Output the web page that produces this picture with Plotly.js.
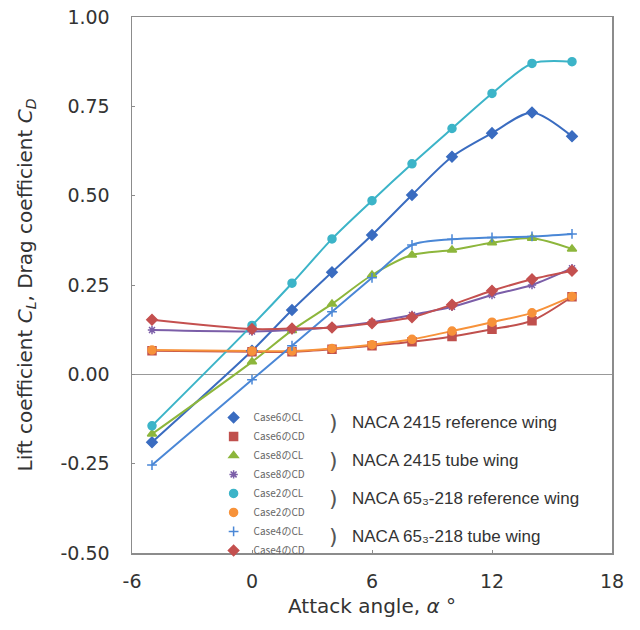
<!DOCTYPE html>
<html>
<head>
<meta charset="utf-8">
<script src="https://cdn.plot.ly/plotly-3.0.1.min.js"></script>
<style>html,body{margin:0;padding:0;background:#fff;}#chart{width:640px;height:630px;}</style>
</head>
<body>
<div id="chart"></div>
<script>
// Attack angle (degrees)
const alpha = [-5, 0, 2, 4, 6, 8, 10, 12, 14, 16];

// NACA 2415 reference wing
const case6CL = [-0.19, 0.066, 0.18, 0.286, 0.39, 0.502, 0.609, 0.675, 0.733, 0.666];
const case6CD = [0.066, 0.063, 0.063, 0.070, 0.080, 0.091, 0.106, 0.126, 0.150, 0.217];
// NACA 2415 tube wing
const case8CL = [-0.167, 0.035, 0.123, 0.197, 0.278, 0.334, 0.348, 0.368, 0.381, 0.351];
const case8CD = [0.124, 0.120, 0.124, 0.132, 0.146, 0.166, 0.189, 0.222, 0.250, 0.297];
// NACA 65(3)-218 reference wing
const case2CL = [-0.144, 0.137, 0.255, 0.379, 0.486, 0.589, 0.688, 0.786, 0.870, 0.875];
const case2CD = [0.068, 0.065, 0.065, 0.072, 0.083, 0.098, 0.121, 0.146, 0.172, 0.218];
// NACA 65(3)-218 tube wing
const case4CL = [-0.254, -0.015, 0.080, 0.175, 0.270, 0.362, 0.378, 0.383, 0.386, 0.393];
const case4CD = [0.153, 0.127, 0.128, 0.131, 0.143, 0.160, 0.195, 0.234, 0.266, 0.290];

const seriesNames = ["Case6のCL", "Case6のCD", "Case8のCL", "Case8のCD", "Case2のCL", "Case2のCD", "Case4のCL", "Case4のCD"];
const seriesValues = [case6CL, case6CD, case8CL, case8CD, case2CL, case2CD, case4CL, case4CD];
const groupLabels = ["NACA 2415 reference wing", "NACA 2415 tube wing", "NACA 65₃-218 reference wing", "NACA 65₃-218 tube wing"];
const xTickVals = [-6, 0, 6, 12, 18];
const xTickText = ["-6", "0", "6", "12", "18"];
const yTickVals = [-0.5, -0.25, 0, 0.25, 0.5, 0.75, 1.0];
const yTickText = ["-0.50", "-0.25", "0.00", "0.25", "0.50", "0.75", "1.00"];

const colors = ["#3a6cc0", "#c0504d", "#8db63c", "#7b5ea8", "#3cb4c8", "#f7923a", "#4a87d6", "#c4504f"];
const symbols = ["diamond", "square", "triangle-up", "asterisk-open", "circle", "circle", "cross-thin-open", "diamond"];
const sizes = [8, 8, 8, 7, 8, 8, 7, 8];

const traces = [];
// lines (no legend)
seriesValues.forEach((v, i) => {
  traces.push({
    x: alpha, y: v, type: "scatter", mode: "lines", showlegend: false, hoverinfo: "skip",
    line: {color: colors[i], width: 2, shape: "spline", smoothing: 0.8}
  });
});
// markers (legend)
seriesValues.forEach((v, i) => {
  traces.push({
    x: alpha, y: v, type: "scatter", mode: "markers", name: seriesNames[i],
    marker: {color: colors[i], symbol: symbols[i], size: sizes[i], line: {color: colors[i], width: 1.5}}
  });
});

// group annotations next to the legend pairs
const pairY = [-0.135, -0.241, -0.348, -0.454];
const annotations = [];
pairY.forEach((y, k) => {
  annotations.push({x: 4.05, y: y, xref: "x", yref: "y", text: ")", showarrow: false,
    font: {family: "DejaVu Sans", size: 22, color: "#555"}, xanchor: "center", yanchor: "middle"});
  annotations.push({x: 4.9, y: y, xref: "x", yref: "y", text: groupLabels[k], showarrow: false,
    font: {family: "Liberation Sans, DejaVu Sans, sans-serif", size: 17, color: "#333"}, xanchor: "left", yanchor: "middle"});
});

const layout = {
  width: 640, height: 630,
  margin: {l: 132, r: 28, t: 17, b: 77},
  paper_bgcolor: "#fff", plot_bgcolor: "#fff",
  font: {family: "DejaVu Sans, sans-serif", color: "#333"},
  showlegend: true,
  legend: {
    x: 0.17, y: 0.28, xanchor: "left", yanchor: "top",
    bgcolor: "rgba(0,0,0,0)", borderwidth: 0,
    font: {family: "Noto Sans CJK JP", size: 10, color: "#666"},
    itemwidth: 30, tracegroupgap: 0
  },
  xaxis: {
    range: [-6, 18], tickvals: xTickVals, ticktext: xTickText,
    showgrid: false, zeroline: false,
    showline: true, mirror: true, linecolor: "#8c8c8c", linewidth: 1.5,
    ticks: "inside", ticklen: 3, tickcolor: "#8c8c8c",
    tickfont: {family: "DejaVu Sans, sans-serif", size: 19, color: "#333"}, ticklabelstandoff: 11,
    title: {text: "Attack angle, <i>α</i> °", font: {family: "DejaVu Sans, sans-serif", size: 20, color: "#333"}, standoff: 7}
  },
  yaxis: {
    range: [-0.5, 1.0], tickvals: yTickVals, ticktext: yTickText,
    showgrid: false, zeroline: true, zerolinecolor: "#999", zerolinewidth: 1.5,
    showline: true, mirror: true, linecolor: "#8c8c8c", linewidth: 1.5,
    ticks: "inside", ticklen: 3, tickcolor: "#8c8c8c",
    tickfont: {family: "DejaVu Sans, sans-serif", size: 19, color: "#333"}, ticklabelstandoff: 17,
    title: {text: "Lift coefficient <i>C<sub>L</sub></i>, Drag coefficient <i>C<sub>D</sub></i>", font: {family: "DejaVu Sans, sans-serif", size: 20, color: "#333"}, standoff: 22}
  },
  annotations: annotations
};

Plotly.newPlot("chart", traces, layout, {displayModeBar: false, staticPlot: true});
</script>
</body>
</html>
